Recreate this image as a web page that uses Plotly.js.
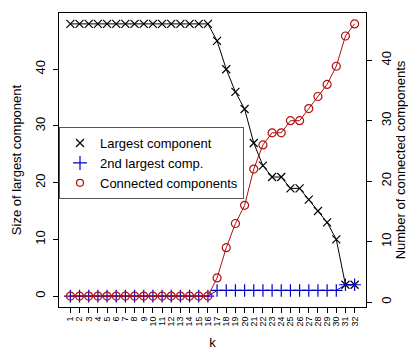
<!DOCTYPE html>
<html><head><meta charset="utf-8">
<script src="https://cdn.plot.ly/plotly-3.0.1.min.js"></script>
<style>html,body{margin:0;padding:0;background:#fff}#chart{width:408px;height:350px}</style>
</head><body><div id="chart"></div>
<script>
const k = [1,2,3,4,5,6,7,8,9,10,11,12,13,14,15,16,17,18,19,20,21,22,23,24,25,26,27,28,29,30,31,32];
const largest = [48,48,48,48,48,48,48,48,48,48,48,48,48,48,48,48,45,40,36,33,27,23,21,21,19,19,17,15,13,10,2,2];
const second = [0,0,0,0,0,0,0,0,0,0,0,0,0,0,0,0,1,1,1,1,1,1,1,1,1,1,1,1,1,1,2,2];
const components = [1,1,1,1,1,1,1,1,1,1,1,1,1,1,1,1,4,9,13,16,22,26,28,28,30,30,32,34,36,39,44,46];
const tickLabels = k.map(String);
const names = ['Largest component','2nd largest comp.','Connected components'];

const cBlack = '#000000', cBlue = '#0000CD', cRed = '#B01010';
const F = 'Liberation Sans, Arial, sans-serif';

function mk(symbol, size, color){ return {symbol:symbol,size:size,color:color,line:{color:color,width:1.2}}; }

const traces = [
  {x:k, y:largest, mode:'lines+markers', yaxis:'y', showlegend:false,
   line:{color:cBlack,width:1}, marker:mk('x-thin-open',8,cBlack)},
  {x:k, y:second, mode:'lines+markers', yaxis:'y', showlegend:false,
   line:{color:cBlue,width:1}, marker:mk('cross-thin-open',9,cBlue)},
  {x:k, y:components, mode:'lines+markers', yaxis:'y2', showlegend:false,
   line:{color:cRed,width:1}, marker:mk('circle-open',8,cRed)},
  {x:[null], y:[null], mode:'markers', name:names[0], marker:mk('x-thin-open',8,cBlack)},
  {x:[null], y:[null], mode:'markers', name:names[1], marker:mk('cross-thin-open',10,cBlue)},
  {x:[null], y:[null], mode:'markers', name:names[2], marker:mk('circle-open',7,cRed)}
];

const layout = {
  width:408, height:350,
  margin:{l:59,r:42,t:13,b:43},
  paper_bgcolor:'#fff', plot_bgcolor:'#fff',
  font:{family:F,size:13,color:'#000'},
  showlegend:true,
  legend:{x:0,xanchor:'left',y:0.612,yanchor:'top',bordercolor:'#555',borderwidth:1,
          bgcolor:'#fff',font:{family:F,size:13},itemwidth:30,tracegroupgap:0},
  xaxis:{range:[-0.24,33.24],tickmode:'array',tickvals:k,ticktext:tickLabels,
         tickangle:-90,tickfont:{size:9},ticks:'outside',ticklen:5,tickcolor:'#000',
         showline:true,linecolor:'#000',linewidth:1,mirror:true,showgrid:false,zeroline:false,
         title:{text:'k',font:{size:13},standoff:14}},
  yaxis:{range:[-1.92,49.92],tickvals:[0,10,20,30,40],tickangle:-90,ticks:'outside',ticklen:5,
         tickcolor:'#000',tickfont:{size:13},showline:true,linecolor:'#000',linewidth:1,
         showgrid:false,zeroline:false,ticklabelstandoff:3,
         title:{text:'Size of largest component',font:{size:13},standoff:8}},
  yaxis2:{range:[-0.8,47.8],overlaying:'y',side:'right',tickvals:[0,10,20,30,40],tickangle:-90,
          ticks:'outside',ticklen:5,tickcolor:'#000',tickfont:{size:13},showline:true,
          linecolor:'#000',linewidth:1,showgrid:false,zeroline:false,ticklabelstandoff:3,
          title:{text:'Number of connected components',font:{size:13},standoff:6}}
};

Plotly.newPlot('chart', traces, layout, {displayModeBar:false, staticPlot:true});
</script></body></html>
